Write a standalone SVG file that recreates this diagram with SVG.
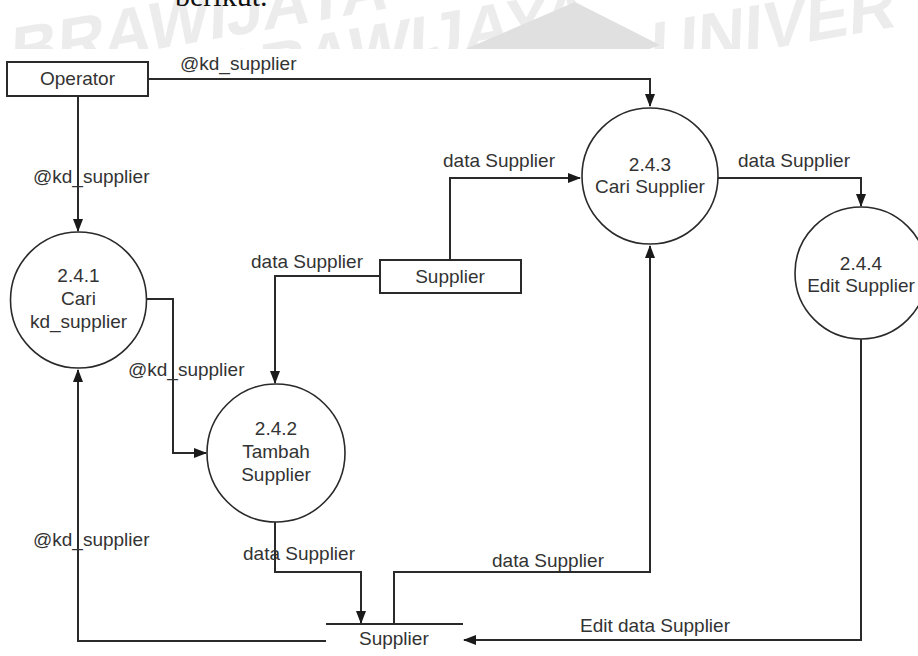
<svg xmlns="http://www.w3.org/2000/svg" width="918" height="656" viewBox="0 0 918 656">
<defs>
<style>
.lbl{font-family:"Liberation Sans",Arial,sans-serif;font-size:19px;fill:#333}
.mid{text-anchor:middle}
.ln{fill:none;stroke:#2a2a2a;stroke-width:2}
.box{fill:#fff;stroke:#2a2a2a;stroke-width:2}
.proc{fill:#fff;stroke:#2a2a2a;stroke-width:1.6}
.wm{font-family:"Liberation Sans",Arial,sans-serif;font-weight:bold;font-size:66px;fill:#ececec}
</style>
<marker id="arr" markerUnits="userSpaceOnUse" markerWidth="13" markerHeight="12" viewBox="0 0 13 12" refX="12" refY="6" orient="auto">
<path d="M0,1 L13,6 L0,11 Z" fill="#1a1a1a"/>
</marker>
<clipPath id="wmclip"><path d="M0,0 H918 V49 H7 V656 H0 Z"/></clipPath>
</defs>
<rect width="918" height="656" fill="#fff"/>
<g id="watermark" clip-path="url(#wmclip)">
<text class="wm" transform="translate(10,75) rotate(-10) skewX(-12)">BRAWIJAYA</text>
<text class="wm" transform="translate(210,100) rotate(-10) skewX(-12)">BRAWIJAYA</text>
<text class="wm" transform="translate(650,70) rotate(-10) skewX(-12)">UNIVER</text>
<path d="M440,60 L575,2 L660,45 L620,60 Z" fill="#e0e0e0"/>
<text x="-30" y="400" class="wm" transform="rotate(-90 -30 400)">UNIVERSITAS</text>
</g>
<text x="175" y="6" style="font-family:'Liberation Serif','Times New Roman',serif;font-size:30px;fill:#111">berikut.</text>

<g id="connectors">
<path class="ln" d="M148,79 H650 V106" marker-end="url(#arr)"/>
<path class="ln" d="M78,96 V231" marker-end="url(#arr)"/>
<path class="ln" d="M147,299 H173 V453 H206" marker-end="url(#arr)"/>
<path class="ln" d="M380,276 H275 V383" marker-end="url(#arr)"/>
<path class="ln" d="M450,260 V178 H580" marker-end="url(#arr)"/>
<path class="ln" d="M718,178 H861 V206" marker-end="url(#arr)"/>
<path class="ln" d="M275,522 V572 H361 V623" marker-end="url(#arr)"/>
<path class="ln" d="M394,624 V572 H650 V246" marker-end="url(#arr)"/>
<path class="ln" d="M861,339 V640 H464" marker-end="url(#arr)"/>
<path class="ln" d="M326,641 H78 V370" marker-end="url(#arr)"/>
<text class="lbl" x="180" y="70">@kd_supplier</text>
<text class="lbl" x="33" y="183">@kd_supplier</text>
<text class="lbl" x="128" y="376">@kd_supplier</text>
<text class="lbl" x="33" y="546">@kd_supplier</text>
<text class="lbl" x="251" y="268">data Supplier</text>
<text class="lbl" x="443" y="167">data Supplier</text>
<text class="lbl" x="738" y="167">data Supplier</text>
<text class="lbl" x="243" y="560">data Supplier</text>
<text class="lbl" x="492" y="567">data Supplier</text>
<text class="lbl" x="580" y="632">Edit data Supplier</text>
</g>

<g id="operator">
<rect class="box" x="7" y="62" width="141" height="34"/>
<text class="lbl mid" x="77.5" y="85">Operator</text>
</g>

<g id="supplier-entity">
<rect class="box" x="380" y="260" width="141" height="33"/>
<text class="lbl mid" x="450" y="283">Supplier</text>
</g>

<g id="p241">
<circle class="proc" cx="78.5" cy="300" r="68"/>
<text class="lbl mid" x="78.5" y="282">2.4.1</text>
<text class="lbl mid" x="78.5" y="305">Cari</text>
<text class="lbl mid" x="78.5" y="328">kd_supplier</text>
</g>

<g id="p242">
<circle class="proc" cx="276" cy="453" r="69"/>
<text class="lbl mid" x="276" y="435">2.4.2</text>
<text class="lbl mid" x="276" y="458">Tambah</text>
<text class="lbl mid" x="276" y="481">Supplier</text>
</g>

<g id="p243">
<circle class="proc" cx="650" cy="176" r="68"/>
<text class="lbl mid" x="650" y="171">2.4.3</text>
<text class="lbl mid" x="650" y="193">Cari Supplier</text>
</g>

<g id="p244">
<circle class="proc" cx="861" cy="273" r="66"/>
<text class="lbl mid" x="861" y="270">2.4.4</text>
<text class="lbl mid" x="861" y="292">Edit Supplier</text>
</g>

<g id="supplier-store">
<path class="ln" d="M326,624 H463"/>
<text class="lbl" x="359" y="645">Supplier</text>
</g>
</svg>
